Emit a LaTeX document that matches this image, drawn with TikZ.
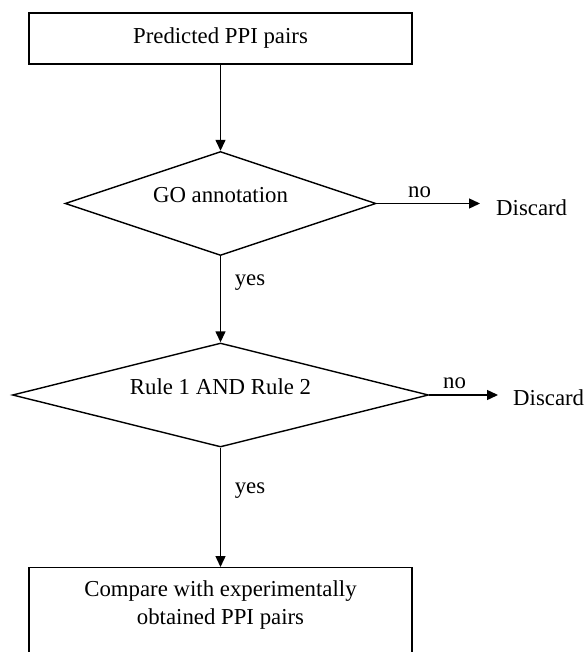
\documentclass[tikz,border=0pt]{standalone}
\usepackage{fontspec}
\setmainfont{Liberation Serif}
\usetikzlibrary{arrows.meta,shapes.geometric}
\begin{document}
\begin{tikzpicture}[x=1pt,y=-1pt, font=\fontsize{22.8pt}{27.3pt}\selectfont,
  box/.style={draw, line width=1.4pt, inner sep=0pt},
  dia/.style={draw, diamond, line width=1.4pt, inner sep=0pt},
  lbl/.style={inner sep=0pt, anchor=base},
  arr/.style={line width=1.4pt, -{Triangle[length=11pt,width=10pt]}}]
\useasboundingbox (0,0) rectangle (586,652);
\fill[white] (0,0) rectangle (586,652);
\node[box, minimum width=383pt, minimum height=51pt] (b1) at (220.5,38.5) {Predicted PPI pairs};
\node[dia, minimum width=311pt, minimum height=104pt] (d1) at (220.5,203.5) {};
\node[lbl] (t1) at (220.5,203) {GO annotation};
\node[dia, minimum width=416pt, minimum height=104pt] (d2) at (220.5,395) {};
\node[lbl] (t2) at (220.5,394) {Rule 1 AND Rule 2};
\node[box, minimum width=383pt, minimum height=120pt, anchor=north] (b2) at (220.5,567) {};
\node[lbl] (t3) at (220.5,596.7) {Compare with experimentally};
\node[lbl] (t4) at (220.5,624) {obtained PPI pairs};
\node[lbl, anchor=base west] (x1) at (496,215) {Discard};
\node[lbl, anchor=base west] (x2) at (513,405.7) {Discard};
\draw[arr] (b1.south) -- (d1.north);
\draw[arr] (d1.south) -- (d2.north);
\draw[arr] (d2.south) -- (b2.north);
\draw[arr, shorten >=16pt] (d1.east) -- (d1.east -| x1.west);
\draw[arr, shorten >=15pt] (d2.east) -- (d2.east -| x2.west);
\node[lbl] (n1) at (419.5,198) {no};
\node[lbl] (n2) at (454.5,388) {no};
\node[lbl] (y1) at (250,285) {yes};
\node[lbl] (y2) at (250,493) {yes};
\end{tikzpicture}
\end{document}
